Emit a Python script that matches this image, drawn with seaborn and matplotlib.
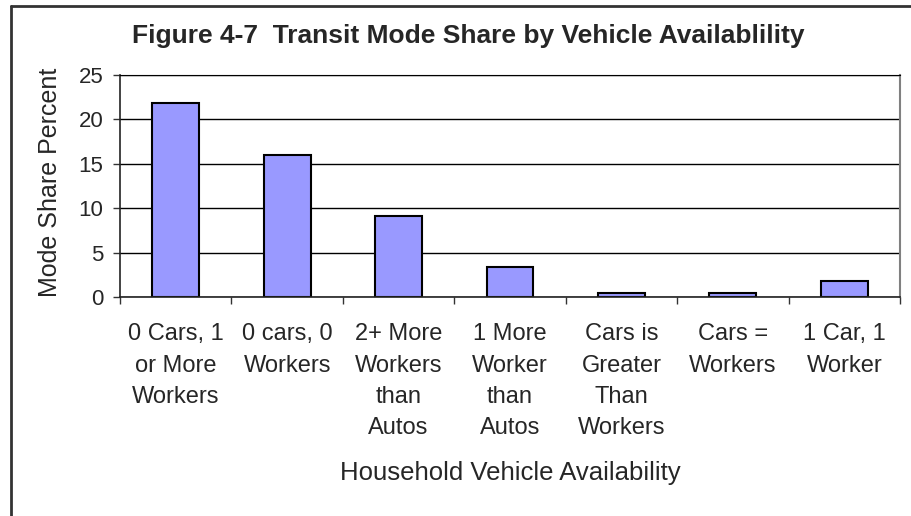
import matplotlib.pyplot as plt
import pandas as pd
import seaborn as sns
from matplotlib.lines import Line2D

# Data
categories = [
    "0 Cars, 1\nor More\nWorkers",
    "0 cars, 0\nWorkers",
    "2+ More\nWorkers\nthan\nAutos",
    "1 More\nWorker\nthan\nAutos",
    "Cars is\nGreater\nThan\nWorkers",
    "Cars =\nWorkers",
    "1 Car, 1\nWorker",
]
mode_share = [21.9, 16.0, 9.1, 3.4, 0.45, 0.45, 1.8]
y_ticks = [0, 5, 10, 15, 20, 25]

df = pd.DataFrame({"category": categories, "share": mode_share})

sns.set_style("white")
plt.rcParams["font.family"] = ["Liberation Sans", "DejaVu Sans"]

fig = plt.figure(figsize=(9.12, 5.16), dpi=100)
ax = fig.add_axes([120 / 912, 1 - 297 / 516, 780 / 912, 222 / 516])

sns.barplot(
    data=df,
    x="category",
    y="share",
    color="#9999FF",
    saturation=1,
    edgecolor="black",
    linewidth=1.5,
    width=0.42,
    ax=ax,
)

ax.set_ylim(0, 25)
ax.set_xlim(-0.5, len(categories) - 0.5)
ax.set_yticks(y_ticks)
ax.yaxis.grid(True, color="black", linewidth=1)
ax.set_axisbelow(True)
ax.set_xlabel("")
ax.set_ylabel("")

# category boundaries get the tick marks
ax.set_xticks([i - 0.5 for i in range(len(categories) + 1)], minor=True)
ax.tick_params(axis="x", which="minor", length=5, width=1, color="#333333", direction="out", bottom=True)
ax.tick_params(axis="x", which="major", length=0, pad=19, labelsize=17)
ax.tick_params(axis="y", which="major", length=5, width=1, color="#333333", direction="out", left=True, pad=7, labelsize=16)
for lab in ax.get_xticklabels():
    lab.set_linespacing(1.54)

for side in ["left", "bottom"]:
    ax.spines[side].set_color("#222222")
    ax.spines[side].set_linewidth(1.2)
ax.spines["right"].set_color("#808080")
ax.spines["right"].set_linewidth(1.5)
ax.spines["top"].set_color("black")

fig.text(468 / 912, 1 - 36 / 516, "Figure 4-7  Transit Mode Share by Vehicle Availablility",
         ha="center", va="center", fontsize=19, fontweight="bold")
fig.text(50 / 912, 1 - 182 / 516, "Mode Share Percent", rotation=90,
         ha="center", va="center", fontsize=18)
fig.text(510 / 912, 1 - 473 / 516, "Household Vehicle Availability",
         ha="center", va="center", fontsize=18.5)

# outer chart border (only the top and left edges are in frame)
fig.add_artist(Line2D([11 / 912, 11 / 912], [0, 1 - 6 / 516], color="#333333", linewidth=2, transform=fig.transFigure))
fig.add_artist(Line2D([11 / 912, 1], [1 - 6 / 516, 1 - 6 / 516], color="#333333", linewidth=2, transform=fig.transFigure))

fig.savefig("out.png", dpi=100)
